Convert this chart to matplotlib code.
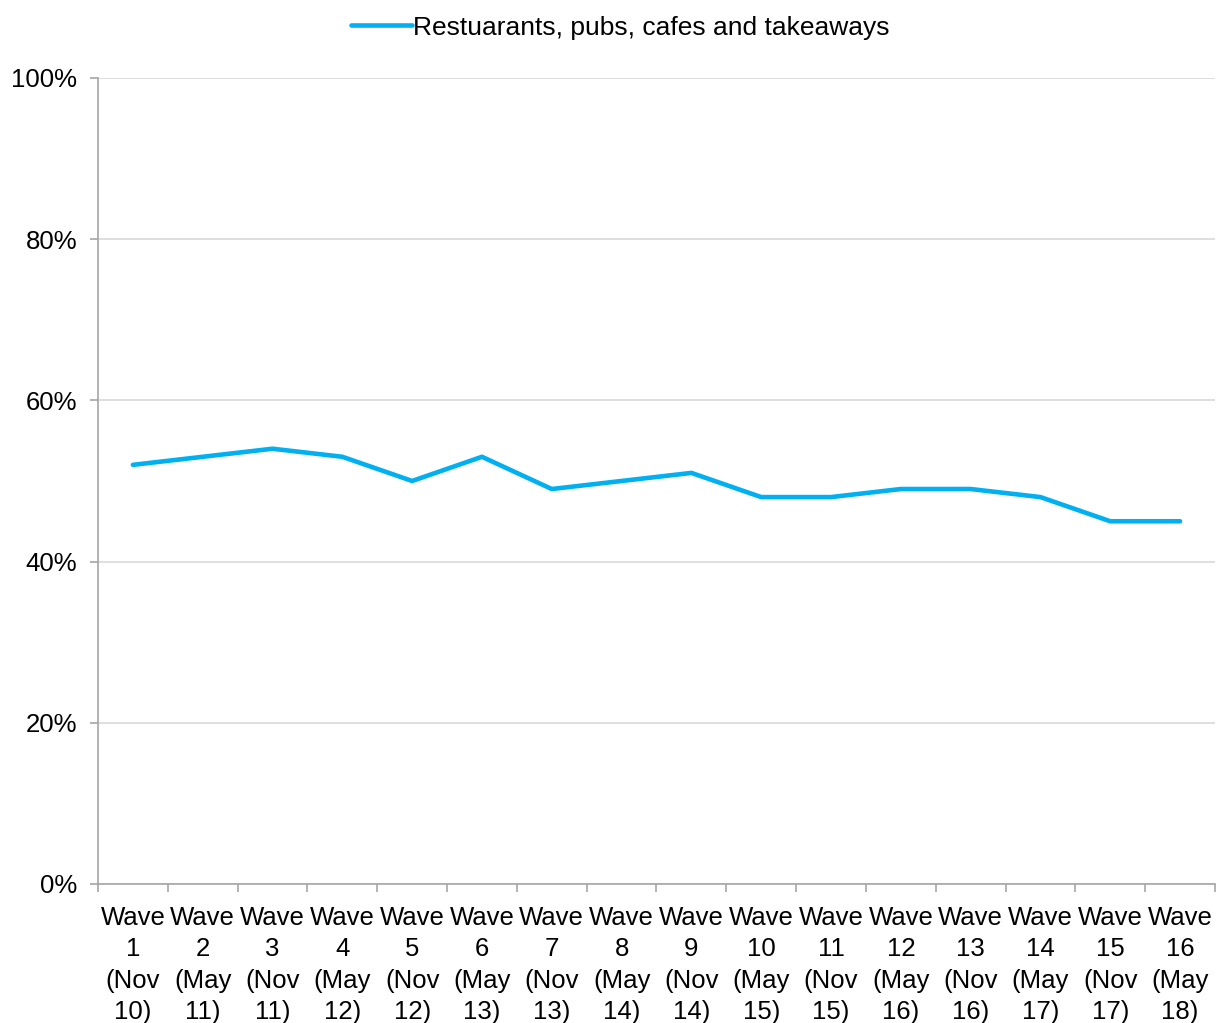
import matplotlib.pyplot as plt
import numpy as np

plt.rcParams['font.family'] = ['Liberation Sans', 'DejaVu Sans']

waves = [str(i) for i in range(1, 17)]
dates = ["Nov 10", "May 11", "Nov 11", "May 12", "Nov 12", "May 13", "Nov 13", "May 14",
         "Nov 14", "May 15", "Nov 15", "May 16", "Nov 16", "May 17", "Nov 17", "May 18"]
values = [52, 53, 54, 53, 50, 53, 49, 50, 51, 48, 48, 49, 49, 48, 45, 45]

labels = [f"Wave\n{w}\n({d.split()[0]}\n{d.split()[1]})" for w, d in zip(waves, dates)]

fig = plt.figure(figsize=(12.19, 10.23), dpi=100)
ax = fig.add_axes([0.0804, 0.1359, 0.9163, 0.7879])

x = np.arange(len(values)) + 0.5
line, = ax.plot(x, np.array(values) / 100, color="#00B0F0", linewidth=3.3,
                solid_capstyle="round", label="Restuarants, pubs, cafes and takeaways")

ax.set_xlim(0, len(values))
ax.set_ylim(0, 1)
ax.set_yticks(np.arange(0, 1.01, 0.2))
ax.set_yticklabels([f"{int(round(v * 100))}%" for v in np.arange(0, 1.01, 0.2)])
ax.yaxis.grid(True, color="#D9D9D9", linewidth=1.2)
ax.set_axisbelow(True)

ax.set_xticks(np.arange(0, len(values) + 1))
ax.set_xticklabels([])
ax.set_xticks(x, minor=True)
ax.set_xticklabels(labels, minor=True, linespacing=1.38)
ax.tick_params(axis="x", which="minor", length=0, pad=16, labelsize=18.5)
ax.tick_params(axis="x", which="major", length=6, color="#A6A6A6", width=1.2)
ax.tick_params(axis="y", length=6, color="#A6A6A6", width=1.2, labelsize=18.5, pad=9)

for s in ["top", "right"]:
    ax.spines[s].set_visible(False)
for s in ["left", "bottom"]:
    ax.spines[s].set_color("#A6A6A6")
    ax.spines[s].set_linewidth(1.2)

fig.legend(handles=[line], loc="upper center", bbox_to_anchor=(0.509, 1.008), frameon=False,
           fontsize=19, handlelength=2.3, handletextpad=0.05)

fig.savefig("out.png", dpi=100)
